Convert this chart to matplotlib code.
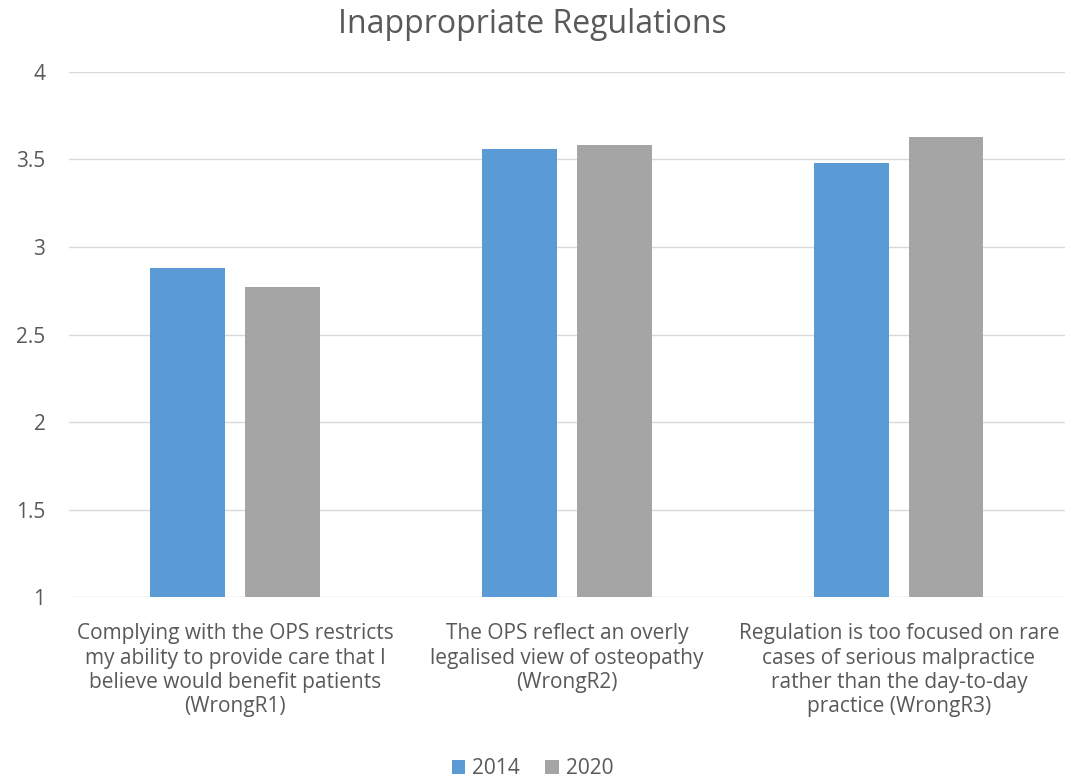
import matplotlib
matplotlib.use("Agg")
import matplotlib.pyplot as plt
import numpy as np

categories = [
    "Complying with the OPS restricts\nmy ability to provide care that I\nbelieve would benefit patients\n(WrongR1)",
    "The OPS reflect an overly\nlegalised view of osteopathy\n(WrongR2)",
    "Regulation is too focused on rare\ncases of serious malpractice\nrather than the day-to-day\npractice (WrongR3)",
]
series_names = ["2014", "2020"]
values_2014 = [2.88, 3.56, 3.48]
values_2020 = [2.77, 3.58, 3.63]
yticks = [1, 1.5, 2, 2.5, 3, 3.5, 4]

plt.rcParams['font.family'] = ['Open Sans', 'DejaVu Sans']
text_color = '#595959'

fig = plt.figure(figsize=(10.65, 7.79), dpi=100)
ax = fig.add_axes([0.0648, 0.2336, 0.935, 0.674])

x = np.arange(len(categories))
w = 0.225
off = 0.1426
ax.bar(x - off, np.array(values_2014) - 1, w, bottom=1, color='#5B9BD5', label=series_names[0], zorder=3)
ax.bar(x + off, np.array(values_2020) - 1, w, bottom=1, color='#A5A5A5', label=series_names[1], zorder=3)

ax.set_xlim(-0.5, 2.5)
ax.set_ylim(1, 4)
ax.set_yticks(yticks)
ax.set_yticklabels([f"{t:g}" for t in yticks])
ax.yaxis.grid(True, color='#D9D9D9', linewidth=1, zorder=0)
ax.set_xticks(x)
ax.set_xticklabels(categories, linespacing=1.2)
for s in ['top', 'right', 'left', 'bottom']:
    ax.spines[s].set_visible(False)
ax.tick_params(axis='both', length=0, colors=text_color, labelsize=15)
ax.tick_params(axis='y', pad=17)
ax.tick_params(axis='x', pad=19)

fig.suptitle("Inappropriate Regulations", x=0.5, y=0.99, fontsize=23, color=text_color)

leg = fig.legend(loc='lower center', bbox_to_anchor=(0.5, -0.024), ncol=2, frameon=False,
                 fontsize=15, handlelength=0.65, handleheight=0.65, handletextpad=0.35,
                 columnspacing=1.2)
for t in leg.get_texts():
    t.set_color(text_color)

fig.savefig("out.png", dpi=100)
